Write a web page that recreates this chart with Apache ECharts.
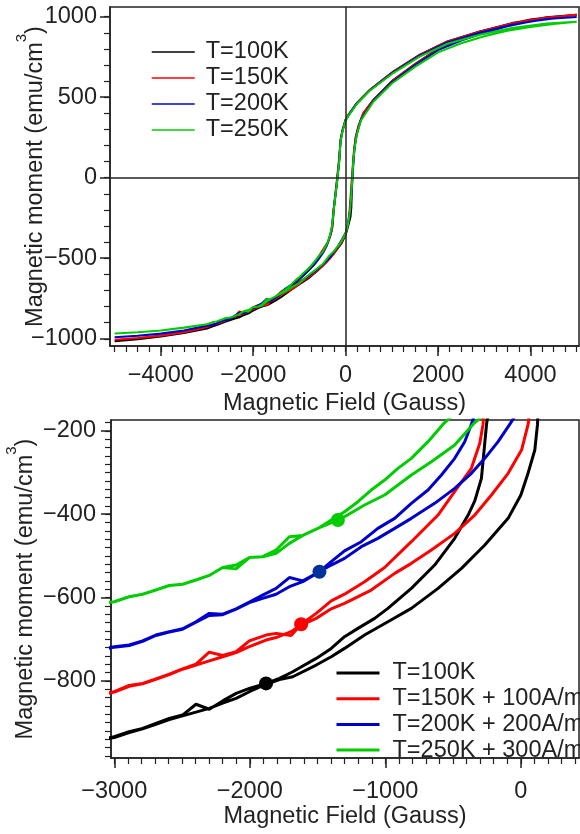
<!DOCTYPE html>
<html>
<head>
<meta charset="utf-8">
<script src="https://cdn.jsdelivr.net/npm/echarts@6/dist/echarts.min.js"></script>
<style>
  html, body { margin: 0; padding: 0; background: #fff; }
  #chart { width: 580px; height: 834px; }
</style>
</head>
<body>
<div id="chart"></div>
<script>
// Hysteresis loops M(H): each loop runs from +5000 G down to -5000 G and back up.
const temperatures = ['T=100K', 'T=150K', 'T=200K', 'T=250K'];
const shiftedNames = ['T=100K', 'T=150K + 100A/m', 'T=200K + 200A/m', 'T=250K + 300A/m'];
const shifts = [0, 100, 200, 300];

const loop100K = [
  [5000, 1012], [4350, 997], [3600, 960], [2900, 908], [2200, 846], [1600, 763], [1030, 659], [520, 545],
  [240, 463], [60, 390], [0, 362], [-67, 297], [-110, 234], [-139, 110], [-182, -14], [-225, -120],
  [-253, -184], [-291, -314], [-340, -368], [-389, -402], [-488, -458], [-636, -522], [-808, -578],
  [-981, -626], [-1079, -650], [-1202, -674], [-1301, -694], [-1399, -722], [-1510, -746], [-1683, -778],
  [-1781, -794], [-1880, -806], [-2003, -818], [-2101, -830], [-2200, -848], [-2299, -868], [-2397, -856],
  [-2496, -882], [-2594, -890], [-2693, -902], [-2791, -914], [-2890, -922], [-3000, -934], [-3500, -963],
  [-4000, -985], [-4500, -1002], [-5000, -1015],
  [-4500, -1003], [-4000, -986], [-3500, -964], [-3000, -936], [-2890, -924], [-2791, -915], [-2693, -904],
  [-2594, -893], [-2496, -884], [-2397, -875], [-2299, -866], [-2200, -853], [-2101, -842], [-2003, -826],
  [-1880, -808], [-1781, -797], [-1683, -790], [-1510, -762], [-1399, -742], [-1301, -722], [-1153, -690],
  [-981, -658], [-808, -626], [-611, -578], [-438, -530], [-266, -474], [-94, -410], [0, -354], [50, -305],
  [103, -246], [123, -184], [135, -70], [160, 60], [185, 170], [220, 250], [280, 320], [380, 400],
  [600, 483], [1000, 600], [1500, 705], [2000, 800], [2500, 862], [3000, 910], [3500, 952], [4000, 982],
  [4500, 1000], [5000, 1012]
];

const loop150K = [
  [5000, 1010], [4350, 995], [3600, 958], [2900, 906], [2200, 845], [1600, 762], [1030, 658], [520, 544],
  [240, 462], [60, 388], [0, 360], [-67, 295], [-110, 232], [-145, 110], [-190, -14], [-230, -120],
  [-262, -200], [-279, -284], [-303, -330], [-365, -390], [-463, -434], [-611, -502], [-808, -566],
  [-1005, -628], [-1153, -662], [-1301, -692], [-1399, -708], [-1510, -738], [-1621, -764], [-1695, -791],
  [-1806, -786], [-1880, -790], [-2003, -804], [-2101, -830], [-2200, -839], [-2299, -831], [-2397, -860],
  [-2496, -871], [-2594, -884], [-2693, -895], [-2791, -906], [-2890, -911], [-3000, -926], [-3500, -958],
  [-4000, -980], [-4500, -996], [-5000, -1006],
  [-4500, -996], [-4000, -981], [-3500, -959], [-3000, -927], [-2890, -913], [-2791, -907], [-2693, -896],
  [-2594, -885], [-2496, -872], [-2397, -862], [-2299, -852], [-2200, -842], [-2101, -832], [-2003, -818],
  [-1880, -802], [-1806, -796], [-1695, -782], [-1621, -766], [-1510, -750], [-1399, -727], [-1301, -714],
  [-1104, -682], [-931, -642], [-808, -618], [-660, -586], [-488, -546], [-340, -502], [-217, -454],
  [-94, -402], [5, -346], [54, -284], [85, -200], [115, -80], [150, 60], [180, 170], [215, 250],
  [275, 320], [380, 398], [600, 482], [1000, 598], [1500, 703], [2000, 798], [2500, 860], [3000, 908],
  [3500, 950], [4000, 980], [4500, 998], [5000, 1010]
];

const loop200K = [
  [5000, 998], [4350, 985], [3600, 950], [2900, 900], [2200, 840], [1600, 758], [1030, 655], [520, 542],
  [240, 460], [60, 386], [0, 358], [-67, 292], [-110, 228], [-140, 105], [-185, -20], [-230, -125],
  [-260, -200], [-295, -300], [-330, -350], [-365, -384], [-414, -426], [-488, -466], [-586, -506],
  [-685, -542], [-808, -574], [-931, -610], [-1055, -634], [-1177, -666], [-1301, -688], [-1399, -714],
  [-1486, -738], [-1609, -760], [-1708, -752], [-1806, -778], [-1905, -794], [-2003, -811], [-2101, -827],
  [-2200, -840], [-2299, -838], [-2397, -858], [-2496, -875], [-2594, -882], [-2693, -890], [-2791, -904],
  [-2890, -914], [-3000, -918], [-3500, -948], [-4000, -968], [-4500, -982], [-5000, -990],
  [-4500, -982], [-4000, -969], [-3500, -949], [-3000, -919], [-2890, -915], [-2791, -905], [-2693, -891],
  [-2594, -883], [-2496, -876], [-2397, -859], [-2299, -843], [-2200, -841], [-2101, -828], [-2003, -812],
  [-1905, -802], [-1806, -792], [-1708, -774], [-1609, -762], [-1486, -738], [-1399, -722], [-1301, -706],
  [-1177, -678], [-1055, -658], [-931, -634], [-808, -610], [-636, -574], [-488, -538], [-365, -502],
  [-266, -466], [-168, -426], [-81, -384], [0, -342], [50, -290], [90, -215], [118, -120], [140, -20],
  [165, 100], [195, 190], [240, 270], [330, 360], [600, 478], [1000, 593], [1500, 698], [2000, 792],
  [2500, 852], [3000, 900], [3500, 940], [4000, 970], [4500, 988], [5000, 998]
];

const loop250K = [
  [5000, 968], [4350, 958], [3600, 930], [2900, 888], [2200, 832], [1600, 752], [1030, 650], [520, 540],
  [240, 458], [60, 384], [0, 356], [-67, 290], [-110, 225], [-140, 100], [-185, -25], [-230, -130],
  [-265, -220], [-300, -310], [-350, -370], [-420, -420], [-500, -462], [-574, -484], [-685, -526],
  [-808, -566], [-907, -590], [-1005, -618], [-1104, -642], [-1202, -670], [-1301, -694], [-1486, -732],
  [-1609, -751], [-1708, -754], [-1806, -786], [-1905, -802], [-2003, -804], [-2101, -822], [-2200, -828],
  [-2299, -847], [-2397, -858], [-2496, -868], [-2594, -871], [-2693, -882], [-2791, -892], [-2890, -898],
  [-3000, -910], [-3500, -930], [-4000, -948], [-4500, -960], [-5000, -968],
  [-4500, -960], [-4000, -949], [-3500, -931], [-3000, -910], [-2890, -898], [-2791, -892], [-2693, -882],
  [-2594, -871], [-2496, -868], [-2397, -858], [-2299, -847], [-2200, -828], [-2101, -831], [-2003, -804],
  [-1905, -802], [-1806, -794], [-1708, -770], [-1609, -751], [-1486, -732], [-1350, -714], [-1301, -706],
  [-1153, -678], [-1005, -654], [-808, -606], [-660, -574], [-488, -534], [-352, -484], [-250, -455],
  [-120, -408], [0, -345], [50, -292], [90, -215], [118, -120], [140, -20], [165, 100], [195, 188],
  [240, 265], [330, 355], [600, 472], [1000, 585], [1500, 688], [2000, 778], [2500, 835], [3000, 878],
  [3500, 912], [4000, 936], [4500, 955], [5000, 968]
];

const loops = [loop100K, loop150K, loop200K, loop250K];

// Field / moment where the two branches of each loop merge (unshifted values)
const mergePoints = [[-1880, -806], [-1621, -764], [-1486, -738], [-1350, -714]];

const lineColors = ['#000000', '#ff0000', '#0000cc', '#00cc00'];
const dotColors = ['#000000', '#ff0000', '#003399', '#00cc00'];

// Axis ticks
const topXLabels = [-4000, -2000, 0, 2000, 4000];
const topYLabels = [-1000, -500, 0, 500, 1000];
const bottomXLabels = [-3000, -2000, -1000, 0];
const bottomYLabels = [-800, -600, -400, -200];

function steps(from, to, step) {
  const out = [];
  for (let v = from; v <= to; v += step) out.push(v);
  return out;
}
const topXMinor = steps(-5000, 5000, 250);
const topYMinor = steps(-1000, 1000, 100);
const bottomXMinor = steps(-3000, 400, 100);
const bottomYMinor = steps(-980, -180, 20);

const INK = '#222';
const FONT = 'Liberation Sans';
const FS = 23.5;
const minus = v => String(v).replace('-', '\u2212');

function xPair(grid, min, max, labels, minor, margin, nameGap) {
  return [
    {
      type: 'value', gridIndex: grid, min, max, position: 'bottom',
      name: 'Magnetic Field (Gauss)', nameLocation: 'middle', nameGap, nameMoveOverlap: false,
      nameTextStyle: { fontFamily: FONT, fontSize: FS, color: INK, lineHeight: 24 },
      axisLine: { show: true, onZero: false, lineStyle: { color: INK, width: 1.5 } },
      axisTick: { show: true, customValues: labels, length: 10, lineStyle: { color: INK, width: 1.5 } },
      axisLabel: { show: true, customValues: labels, margin, fontFamily: FONT, fontSize: FS, color: INK, lineHeight: 24, formatter: minus },
      splitLine: { show: false }
    },
    {
      type: 'value', gridIndex: grid, min, max, position: 'bottom',
      axisLine: { show: false, onZero: false },
      axisTick: { show: true, customValues: minor, length: 6, lineStyle: { color: INK, width: 1.2 } },
      axisLabel: { show: false }, splitLine: { show: false }
    }
  ];
}

function yPair(grid, min, max, labels, minor, margin, nameGap) {
  return [
    {
      type: 'value', gridIndex: grid, min, max, position: 'left',
      name: '{a|Magnetic moment (emu/cm}{s|3}{a|)}', nameLocation: 'middle', nameGap, nameMoveOverlap: false,
      nameTextStyle: {
        rich: {
          a: { fontFamily: FONT, fontSize: FS, color: INK, lineHeight: 44 },
          s: { fontFamily: FONT, fontSize: 15, color: INK, lineHeight: 15, verticalAlign: 'top' }
        }
      },
      axisLine: { show: true, onZero: false, lineStyle: { color: INK, width: 1.5 } },
      axisTick: { show: true, customValues: labels, length: 10, lineStyle: { color: INK, width: 1.5 } },
      axisLabel: { show: true, customValues: labels, margin, fontFamily: FONT, fontSize: FS, color: INK, formatter: minus },
      splitLine: { show: false }
    },
    {
      type: 'value', gridIndex: grid, min, max, position: 'left',
      axisLine: { show: false, onZero: false },
      axisTick: { show: true, customValues: minor, length: 6, lineStyle: { color: INK, width: 1.2 } },
      axisLabel: { show: false }, splitLine: { show: false }
    }
  ];
}

const series = [];
loops.forEach((loop, i) => {
  series.push({
    type: 'line', name: temperatures[i], xAxisIndex: 0, yAxisIndex: 0,
    data: loop, symbol: 'none', showSymbol: false,
    lineStyle: { color: lineColors[i], width: 2 }, itemStyle: { color: lineColors[i] },
    markLine: i === 0 ? {
      silent: true, symbol: 'none', label: { show: false },
      lineStyle: { color: INK, width: 1.5, type: 'solid' },
      data: [{ xAxis: 0 }, { yAxis: 0 }]
    } : undefined
  });
});
loops.forEach((loop, i) => {
  series.push({
    type: 'line', name: shiftedNames[i], xAxisIndex: 2, yAxisIndex: 2,
    data: loop.map(([h, m]) => [h, m + shifts[i]]), symbol: 'none', showSymbol: false,
    lineStyle: { color: lineColors[i], width: 3 }, itemStyle: { color: lineColors[i] }
  });
});
mergePoints.forEach(([h, m], i) => {
  series.push({
    type: 'scatter', xAxisIndex: 2, yAxisIndex: 2, z: 5,
    data: [[h, m + shifts[i]]], symbolSize: 14,
    itemStyle: { color: dotColors[i], opacity: 1 }
  });
});

const legendText = { fontFamily: FONT, fontSize: FS, color: INK, lineHeight: 24 };

const option = {
  animation: false,
  backgroundColor: '#fff',
  grid: [
    { left: 110, top: 7, width: 469, height: 339, outerBoundsMode: 'none', containLabel: false,
      show: true, borderColor: INK, borderWidth: 1.5 },
    { left: 111, top: 420, width: 468, height: 338, outerBoundsMode: 'none', containLabel: false,
      show: true, borderColor: INK, borderWidth: 1.5 }
  ],
  xAxis: [
    ...xPair(0, -5100, 5050, topXLabels, topXMinor, 18, 46),
    ...xPair(1, -3024, 429, bottomXLabels, bottomXMinor, 22, 47)
  ],
  yAxis: [
    ...yPair(0, -1045, 1060, topYLabels, topYMinor, 13, 52),
    ...yPair(1, -985, -174, bottomYLabels, bottomYMinor, 15, 63)
  ],
  legend: [
    {
      orient: 'vertical', left: 146, top: 35, itemWidth: 43, itemHeight: 24, itemGap: 2,
      data: temperatures.map(n => ({ name: n, lineStyle: { width: 1.5 }, itemStyle: { opacity: 0 } })),
      textStyle: Object.assign({ padding: [0, 0, 0, 6] }, legendText)
    },
    {
      orient: 'vertical', left: 330, top: 656, itemWidth: 43, itemHeight: 24, itemGap: 1.7,
      data: shiftedNames.map(n => ({ name: n, lineStyle: { width: 3 }, itemStyle: { opacity: 0 } })),
      textStyle: Object.assign({ padding: [0, 0, 0, 8] }, legendText)
    }
  ],
  series
};

echarts.init(document.getElementById('chart'), null, { renderer: 'canvas' }).setOption(option);
</script>
</body>
</html>
